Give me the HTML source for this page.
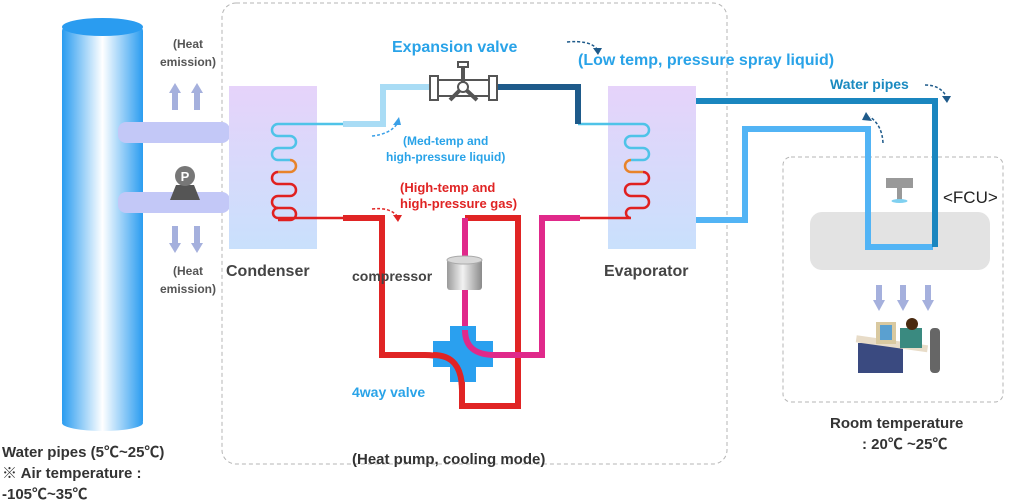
<!DOCTYPE html>
<html><head><meta charset="utf-8"><style>
html,body{margin:0;padding:0;background:#fff;}
svg{display:block;font-family:"Liberation Sans","Noto Sans CJK KR",sans-serif;font-weight:bold;}
</style></head><body>
<svg width="1028" height="504" viewBox="0 0 1028 504" xmlns="http://www.w3.org/2000/svg">
<defs>
<linearGradient id="col" x1="0" x2="1" y1="0" y2="0">
<stop offset="0" stop-color="#2a9cf0"/><stop offset="0.5" stop-color="#ffffff"/><stop offset="1" stop-color="#2a9cf0"/>
</linearGradient>
<linearGradient id="hx" x1="0" x2="0" y1="0" y2="1">
<stop offset="0" stop-color="#e6d3fa"/><stop offset="1" stop-color="#c9e0fc"/>
</linearGradient>
<linearGradient id="cmp" x1="0" x2="1">
<stop offset="0" stop-color="#9a9a9a"/><stop offset="0.45" stop-color="#f2f2f2"/><stop offset="1" stop-color="#8a8a8a"/>
</linearGradient>
</defs>

<!-- dashed boxes -->
<rect x="222" y="3" width="505" height="461" rx="14" fill="none" stroke="#b5b5b5" stroke-dasharray="4,3"/>
<rect x="783" y="157" width="220" height="245" rx="8" fill="none" stroke="#b5b5b5" stroke-dasharray="4,3"/>

<!-- column -->
<rect x="62" y="27" width="81" height="398" rx="4" fill="url(#col)"/>
<ellipse cx="102.5" cy="27" rx="40.5" ry="9" fill="#2a9cf0"/>
<ellipse cx="102.5" cy="423" rx="40.5" ry="8" fill="url(#col)"/>

<!-- left pipes -->
<rect x="118" y="122" width="112" height="21" rx="8" fill="#c3c8f7"/>
<rect x="118" y="192" width="112" height="21" rx="8" fill="#c3c8f7"/>
<!-- pump -->
<polygon points="170,200 200,200 194,185 176,185" fill="#555"/>
<circle cx="185" cy="176" r="10" fill="#777"/>
<text x="185" y="181" font-size="13" fill="#fff" text-anchor="middle">P</text>

<!-- arrows left -->
<g fill="#a5b0dd">
<rect x="172" y="92" width="6" height="18"/><polygon points="169,93 181,93 175,83"/>
<rect x="194" y="92" width="6" height="18"/><polygon points="191,93 203,93 197,83"/>
<rect x="172" y="226" width="6" height="18"/><polygon points="169,243 181,243 175,253"/>
<rect x="194" y="226" width="6" height="18"/><polygon points="191,243 203,243 197,253"/>
</g>

<!-- HX boxes -->
<rect x="229" y="86" width="88" height="163" fill="url(#hx)"/>
<rect x="608" y="86" width="88" height="163" fill="url(#hx)"/>

<!-- coils -->
<g fill="none" stroke-width="2.5">
<path d="M343,124 H278 a6,6 0 0 0 0,12 H290 a6,6 0 0 1 0,12 H278 a6,6 0 0 0 0,12 H290" stroke="#4fc3e8"/>
<path d="M290,160 a6,6 0 0 1 0,12 H278" stroke="#e8832a"/>
<path d="M278,172 a6,6 0 0 0 0,12 H290 a6,6 0 0 1 0,12 H278 a6,6 0 0 0 0,12 H290 a6,6 0 0 1 0,12 H278 a6,6 0 0 0 0,0 " stroke="#e02020"/>
<path d="M278,208 a5,5 0 0 0 0,10 H343" stroke="#e02020"/>
<path d="M578,124 H643 a6,6 0 0 1 0,12 H631 a6,6 0 0 0 0,12 H643 a6,6 0 0 1 0,12 H631" stroke="#4fc3e8"/>
<path d="M631,160 a6,6 0 0 0 0,12 H643" stroke="#e8832a"/>
<path d="M643,172 a6,6 0 0 1 0,12 H631 a6,6 0 0 0 0,12 H643 a6,6 0 0 1 0,12 H631 a5,5 0 0 0 0,10 H580" stroke="#e02020"/>
</g>

<!-- expansion line -->
<path d="M343,124 H383 V87 H430" fill="none" stroke="#a9dcf5" stroke-width="6"/>
<path d="M497,87 H578 V124" fill="none" stroke="#1e5a8a" stroke-width="6"/>
<!-- valve -->
<g fill="#fff" stroke="#555" stroke-width="2">
<rect x="430" y="76" width="8" height="24"/><rect x="489" y="76" width="8" height="24"/>
<rect x="438" y="80" width="51" height="16"/>
<path d="M463,87 L463,67 M463,87 L450,100 M463,87 L477,100" stroke-width="4"/>
<circle cx="463" cy="87" r="5"/>
<rect x="458" y="62" width="10" height="5"/>
</g>

<!-- refrigerant pipes -->
<g fill="none" stroke-width="6">
<path d="M343,218 H382 V355 H425 Q462,355 462,390 V406 H518 V218 H465" stroke="#e02424"/>
<path d="M465,218 V257 M465,290 V330 Q465,355 495,355 H542 V218 H580" stroke="#e0298a"/>
</g>
<!-- 4way valve -->
<path d="M450,326 H476 V341 H493 V367 H476 V382 H450 V367 H433 V341 H450Z" fill="#2aa0ef"/>
<path d="M433,355 Q462,355 462,390 V382" fill="none" stroke="#e02424" stroke-width="6"/>
<path d="M465,330 Q465,355 495,355" fill="none" stroke="#e0298a" stroke-width="6"/>
<!-- compressor -->
<rect x="447" y="259" width="35" height="31" rx="3" fill="url(#cmp)"/>
<ellipse cx="464.5" cy="260" rx="17.5" ry="4" fill="#d8d8d8" stroke="#aaa"/>

<!-- water pipes right -->
<path d="M696,101 H935 V247 H868" fill="none" stroke="#1a86bf" stroke-width="6"/>
<rect x="810" y="212" width="180" height="58" rx="12" fill="#e3e3e3"/>
<path d="M696,220 H745 V129 H868 V247 H933" fill="none" stroke="#52b4f5" stroke-width="6"/>
<path d="M696,101 H935 V247" fill="none" stroke="#1a86bf" stroke-width="6"/>
<!-- fan -->
<rect x="886" y="178" width="27" height="10" fill="#999"/>
<rect x="897" y="188" width="5" height="12" fill="#999"/>
<ellipse cx="899.5" cy="201" rx="8" ry="2" fill="#7fd0f0"/>

<!-- down arrows FCU -->
<g fill="#a5b0dd">
<rect x="876" y="285" width="6" height="16"/><polygon points="873,300 885,300 879,311"/>
<rect x="900" y="285" width="6" height="16"/><polygon points="897,300 909,300 903,311"/>
<rect x="925" y="285" width="6" height="16"/><polygon points="922,300 934,300 928,311"/>
</g>
<!-- person -->
<rect x="858" y="343" width="45" height="30" fill="#3a4a80"/>
<rect x="856" y="340" width="72" height="7" fill="#e8dcc8" transform="rotate(8 890 343)"/>
<rect x="876" y="322" width="20" height="22" fill="#d9c9a0"/>
<rect x="880" y="325" width="12" height="15" fill="#5aa0d0"/>
<rect x="900" y="328" width="22" height="20" fill="#3a8a80"/>
<circle cx="912" cy="324" r="6" fill="#4a2a10"/>
<rect x="930" y="328" width="10" height="45" rx="4" fill="#666"/>

<!-- dashed arrows -->
<g fill="none" stroke-dasharray="3,2" stroke-width="1.5">
<path d="M372,136 Q390,134 397,124" stroke="#3aa0e8"/>
<path d="M372,209 Q390,207 397,216" stroke="#e02424"/>
<path d="M567,42 Q590,40 597,49" stroke="#1e5a8a"/>
<path d="M925,85 Q940,85 946,96" stroke="#1e5a8a"/>
<path d="M883,143 Q882,125 870,117" stroke="#1e5a8a"/>
</g>
<polygon points="393,125 401,125 399,117" fill="#3aa0e8"/>
<polygon points="393,215 402,215 398,222" fill="#e02424"/>
<polygon points="593,48 602,48 598,55" fill="#1e5a8a"/>
<polygon points="942,96 951,96 947,103" fill="#1e5a8a"/>
<polygon points="866,112 872,121 862,120" fill="#1e5a8a"/>

<!-- texts -->
<g fill="#555" font-size="12" text-anchor="middle">
<text x="188" y="48">(Heat</text><text x="188" y="66">emission)</text>
<text x="188" y="275">(Heat</text><text x="188" y="293">emission)</text>
</g>
<g fill="#444" font-size="16">
<text x="226" y="276">Condenser</text>
<text x="604" y="276">Evaporator</text>
<text x="943" y="203" fill="#222" font-weight="normal" font-size="17">&lt;FCU&gt;</text>
</g>
<text x="352" y="281" fill="#444" font-size="14">compressor</text>
<text x="392" y="52" fill="#29a3e8" font-size="16">Expansion valve</text>
<text x="578" y="65" fill="#29a3e8" font-size="16">(Low temp, pressure spray liquid)</text>
<text x="830" y="89" fill="#1a8ac0" font-size="14">Water pipes</text>
<g fill="#29a3e8" font-size="12"><text x="403" y="145">(Med-temp and</text><text x="386" y="161">high-pressure liquid)</text></g>
<g fill="#e02424" font-size="13"><text x="400" y="192">(High-temp and</text><text x="400" y="208">high-pressure gas)</text></g>
<text x="352" y="397" fill="#29a3e8" font-size="14">4way valve</text>
<g fill="#333" font-size="15">
<text x="830" y="428">Room temperature</text>
<text x="862" y="449">: 20℃ ~25℃</text>
<text x="352" y="464">(Heat pump, cooling mode)</text>
<text x="2" y="457">Water pipes (5℃~25℃)</text>
<text x="2" y="478">※ Air temperature :</text>
<text x="2" y="499">-105℃~35℃</text>
</g>
</svg>
</body></html>
